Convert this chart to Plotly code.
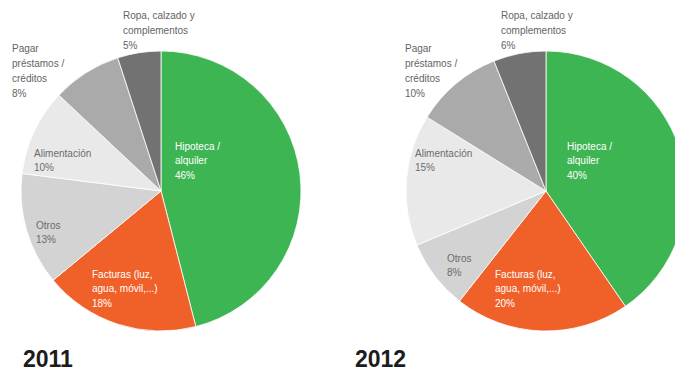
import plotly.graph_objects as go

# Categorías (líneas de cada etiqueta) en el orden de las porciones, sentido horario
CATEGORIAS = [
    ["Hipoteca /", "alquiler"],
    ["Facturas (luz,", "agua, móvil,...)"],
    ["Otros"],
    ["Alimentación"],
    ["Pagar", "préstamos /", "créditos"],
    ["Ropa, calzado y", "complementos"],
]
GASTOS_2011 = [46, 18, 13, 10, 8, 5]
GASTOS_2012 = [40, 20, 8, 15, 10, 6]
ANIOS = ["2011", "2012"]

COLORES = ["#3db553", "#f0612a", "#d3d3d3", "#e9e9e9", "#aaaaaa", "#727272"]
COLOR_TEXTO = ["#ffffff", "#ffffff", "#6c6c6c", "#6c6c6c", "#646464", "#646464"]

W, H = 690, 374
FUENTE = "Liberation Sans, Arial, Helvetica, sans-serif"


def fx(x):
    return x / W


def fy(y):
    return 1 - y / H


R = 140
CENTROS = [(161, 191), (546, 191)]

# Posición (izquierda, primera línea) de cada etiqueta en píxeles
POS_ETIQUETAS = [
    [(173, 146), (90, 274), (34, 225), (32, 153), (10, 49), (121, 16)],
    [(565, 146), (493, 274), (445, 258), (413, 153), (403, 49), (499, 16)],
]
POS_ANIO = [(21, 359), (353, 359)]
INTERLINEA = 14.8

fig = go.Figure()
anotaciones = []

for i, valores in enumerate([GASTOS_2011, GASTOS_2012]):
    cx, cy = CENTROS[i]
    fig.add_trace(go.Pie(
        labels=[" ".join(c) for c in CATEGORIAS],
        values=valores,
        sort=False,
        direction="clockwise",
        rotation=0,
        textinfo="none",
        hoverinfo="label+value",
        marker=dict(colors=COLORES, line=dict(color="#ffffff", width=0.8)),
        domain=dict(x=[fx(cx - R), fx(cx + R)], y=[fy(cy + R), fy(cy - R)]),
        showlegend=False,
    ))
    for j, (lineas, v) in enumerate(zip(CATEGORIAS, valores)):
        x0, y0 = POS_ETIQUETAS[i][j]
        for k, linea in enumerate(lineas + [f"{v}%"]):
            anotaciones.append(dict(
                x=fx(x0), y=fy(y0 + k * INTERLINEA), xref="paper", yref="paper",
                text=linea, showarrow=False, xanchor="left", yanchor="middle",
                font=dict(family=FUENTE, size=10, color=COLOR_TEXTO[j]),
            ))
    ax, ay = POS_ANIO[i]
    anotaciones.append(dict(
        x=fx(ax), y=fy(ay), xref="paper", yref="paper",
        text=f"<b>{ANIOS[i]}</b>", showarrow=False, xanchor="left", yanchor="middle",
        font=dict(family=FUENTE, size=23, color="#1c1c1c"),
    ))

fig.update_layout(
    width=W, height=H,
    margin=dict(l=0, r=0, t=0, b=0),
    paper_bgcolor="#ffffff",
    plot_bgcolor="#ffffff",
    annotations=anotaciones,
)

fig.write_html(
    "out.html",
    post_script="document.documentElement.style.overflow='hidden';document.body.style.overflow='hidden';",
)
